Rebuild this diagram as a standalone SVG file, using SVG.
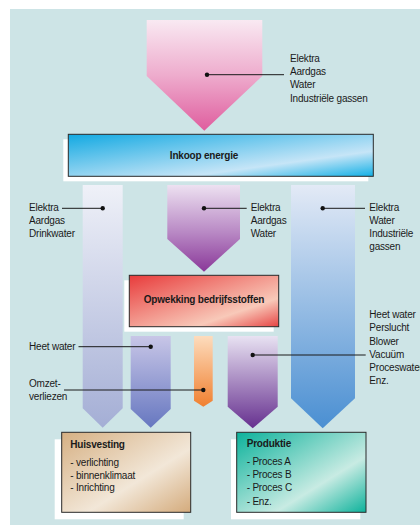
<svg xmlns="http://www.w3.org/2000/svg" width="420" height="525" viewBox="0 0 420 525">
<defs>
<linearGradient id="gPink" x1="0" y1="0" x2="0" y2="1"><stop offset="0" stop-color="#f9e9f2"/><stop offset="0.5" stop-color="#eeaccd"/><stop offset="1" stop-color="#df5d9e"/></linearGradient>
<linearGradient id="gLeft" x1="0" y1="0" x2="0" y2="1"><stop offset="0" stop-color="#eff1f8"/><stop offset="1" stop-color="#a4aed5"/></linearGradient>
<linearGradient id="gMid" x1="0" y1="0" x2="0" y2="1"><stop offset="0" stop-color="#ede1f1"/><stop offset="0.55" stop-color="#b888c4"/><stop offset="1" stop-color="#8a3899"/></linearGradient>
<linearGradient id="gRight" x1="0" y1="0" x2="0" y2="1"><stop offset="0" stop-color="#e3eaf6"/><stop offset="1" stop-color="#4a8fd2"/></linearGradient>
<linearGradient id="gHeet" x1="0" y1="0" x2="0" y2="1"><stop offset="0" stop-color="#c8c6e7"/><stop offset="1" stop-color="#6677c0"/></linearGradient>
<linearGradient id="gOrange" x1="0" y1="0" x2="0" y2="1"><stop offset="0" stop-color="#fddcbd"/><stop offset="1" stop-color="#f08030"/></linearGradient>
<linearGradient id="gPurple" x1="0" y1="0" x2="0" y2="1"><stop offset="0" stop-color="#e8e2f2"/><stop offset="1" stop-color="#66308f"/></linearGradient>
<linearGradient id="gInkoop" x1="0" y1="0" x2="1" y2="1"><stop offset="0" stop-color="#12a9e2"/><stop offset="0.7" stop-color="#c6e5f7"/><stop offset="1" stop-color="#12b0e6"/></linearGradient>
<linearGradient id="gOpw" x1="0" y1="0" x2="1" y2="1"><stop offset="0" stop-color="#e83b3b"/><stop offset="0.72" stop-color="#f8c9b9"/><stop offset="1" stop-color="#e64444"/></linearGradient>
<linearGradient id="gHuis" x1="0" y1="0" x2="1" y2="1"><stop offset="0" stop-color="#d6b083"/><stop offset="0.6" stop-color="#f2e7d8"/><stop offset="1" stop-color="#d4ab7c"/></linearGradient>
<linearGradient id="gProd" x1="0" y1="0" x2="1" y2="1"><stop offset="0" stop-color="#0cb29b"/><stop offset="0.65" stop-color="#c8ebe3"/><stop offset="1" stop-color="#0cb29b"/></linearGradient>
</defs>
<style>
text{font-family:"Liberation Sans",Arial,sans-serif;font-size:10px;fill:#1a1a1a;letter-spacing:-0.2px}
.b{font-weight:bold}
.box{stroke:#2a2a2a;stroke-width:1}
.sh{fill:#ffffff}
.ld{stroke:#1a1a1a;stroke-width:1;fill:none}
.dot{fill:#111}
</style>
<rect x="10" y="9" width="410" height="516" fill="#cde4e6"/>

<g id="supply">
<polygon points="146.7,20 262.3,20 262.3,76 204.3,130.7 146.7,76" fill="url(#gPink)"/>
<text x="290" y="61.6">Elektra</text>
<text x="290" y="75">Aardgas</text>
<text x="290" y="88.4">Water</text>
<text x="290" y="101.8">Industriële gassen</text>
</g>

<g id="inkoop">
<rect class="sh" x="63.3" y="139.3" width="305" height="42"/>
<rect class="box" x="68.3" y="134.3" width="305" height="42" fill="url(#gInkoop)"/>
<text class="b" x="204" y="158.6" text-anchor="middle">Inkoop energie</text>
</g>

<g id="flow-left">
<polygon points="82.7,185 122.7,185 122.7,408.3 102.7,427.7 82.7,408.3" fill="url(#gLeft)"/>
<text x="29" y="211.3">Elektra</text>
<text x="29" y="224.3">Aardgas</text>
<text x="29" y="237.3">Drinkwater</text>
</g>

<g id="flow-mid">
<polygon points="167.3,185 240,185 240,239 204,271.7 167.3,239" fill="url(#gMid)"/>
<text x="250.7" y="211.3">Elektra</text>
<text x="250.7" y="224.3">Aardgas</text>
<text x="250.7" y="237.3">Water</text>
</g>

<g id="flow-right">
<polygon points="291,185 355,185 355,398.3 322.7,428.3 291,398.3" fill="url(#gRight)"/>
<text x="369.3" y="211.3">Elektra</text>
<text x="369.3" y="224.3">Water</text>
<text x="369.3" y="237.3">Industriële</text>
<text x="369.3" y="250.3">gassen</text>
</g>

<g id="opwekking">
<rect class="sh" x="124.3" y="280.3" width="149.4" height="51.4"/>
<rect class="box" x="129.3" y="275.3" width="149.4" height="51.4" fill="url(#gOpw)"/>
<text class="b" x="204" y="302.6" text-anchor="middle" font-size="9.5">Opwekking bedrijfsstoffen</text>
</g>

<g id="flow-heet">
<polygon points="130.7,336 170.7,336 170.7,409 150.7,427.7 130.7,409" fill="url(#gHeet)"/>
<text x="29" y="350.3">Heet water</text>
</g>

<g id="flow-verlies">
<polygon points="194,336 212.7,336 212.7,400.7 203.3,406.7 194,400.7" fill="url(#gOrange)"/>
<text x="29" y="386.9">Omzet-</text>
<text x="29" y="400.3">verliezen</text>
</g>

<g id="flow-proces">
<polygon points="227.7,336 277.7,336 277.7,406.7 252.7,428.3 227.7,406.7" fill="url(#gPurple)"/>
<text x="369.3" y="317.9">Heet water</text>
<text x="369.3" y="331.2">Perslucht</text>
<text x="369.3" y="344.5">Blower</text>
<text x="369.3" y="357.8">Vacuüm</text>
<text x="369.3" y="371.1">Proceswater</text>
<text x="369.3" y="384.4">Enz.</text>
</g>

<g id="huisvesting">
<rect class="sh" x="54.7" y="439.3" width="129" height="80"/>
<rect class="box" x="61.7" y="432.3" width="129" height="80" fill="url(#gHuis)"/>
<text class="b" x="70.3" y="447.9">Huisvesting</text>
<text x="70.3" y="466.3">- verlichting</text>
<text x="70.3" y="479.3">- binnenklimaat</text>
<text x="70.3" y="491.3">- Inrichting</text>
</g>

<g id="produktie">
<rect class="sh" x="231" y="439.3" width="129.3" height="80"/>
<rect class="box" x="236.7" y="432.3" width="129.3" height="80" fill="url(#gProd)"/>
<text class="b" x="246.7" y="446.9">Produktie</text>
<text x="246.7" y="465.3">- Proces A</text>
<text x="246.7" y="478.3">- Proces B</text>
<text x="246.7" y="490.9">- Proces C</text>
<text x="246.7" y="505.3">- Enz.</text>
</g>

<g id="connectors">
<line class="ld" x1="207" y1="74.7" x2="284" y2="74.7"/>
<circle class="dot" cx="207" cy="74.7" r="2.2"/>
<line class="ld" x1="62" y1="208.3" x2="102.7" y2="208.3"/>
<circle class="dot" cx="102.7" cy="208.3" r="2.2"/>
<line class="ld" x1="204" y1="208.3" x2="246.7" y2="208.3"/>
<circle class="dot" cx="204" cy="208.3" r="2.2"/>
<line class="ld" x1="322.7" y1="208.3" x2="365" y2="208.3"/>
<circle class="dot" cx="322.7" cy="208.3" r="2.2"/>
<line class="ld" x1="78.5" y1="346.7" x2="150.7" y2="346.7"/>
<circle class="dot" cx="150.7" cy="346.7" r="2.2"/>
<line class="ld" x1="64" y1="390" x2="203.3" y2="390"/>
<circle class="dot" cx="203.3" cy="390" r="2.2"/>
<line class="ld" x1="252.7" y1="355" x2="365.7" y2="355"/>
<circle class="dot" cx="252.7" cy="355" r="2.2"/>
</g>
</svg>
